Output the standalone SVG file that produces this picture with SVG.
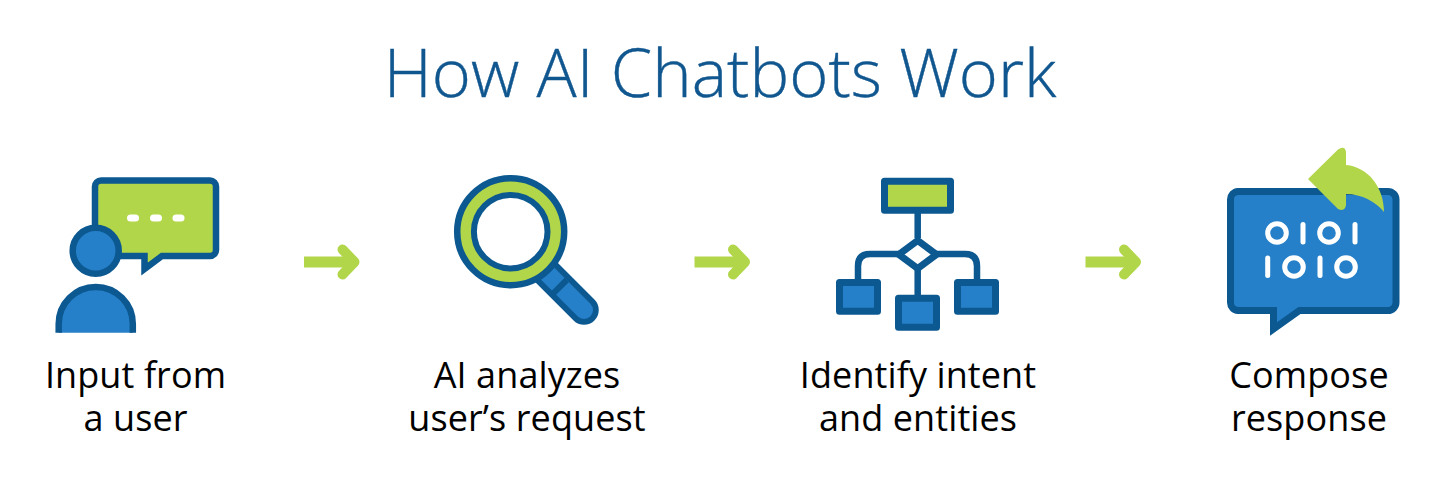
<svg xmlns="http://www.w3.org/2000/svg" width="1440" height="500" viewBox="0 0 1440 500">
<style>
.d{fill:#0c5890}.b{fill:#2680c9}.g{fill:#b2d64a}.w{fill:#fff}
.sd{stroke:#0c5890;stroke-width:6.5;fill:none}
.bx{fill:#2680c9;stroke:#0c5890;stroke-width:7;stroke-linejoin:round}
.bin{fill:none;stroke:#fff;stroke-width:5;stroke-linecap:round}
.t{font-family:"Open Sans",sans-serif;font-size:36px;fill:#000;text-anchor:middle;letter-spacing:.1px}
</style>
<defs>
<g id="arrow"><rect x="0" y="-5.500" width="50" height="11" class="g"/><path d="M38.500 -12.500L50.500 0L38.500 12.500" fill="none" stroke="#b2d64a" stroke-width="10" stroke-linecap="round" stroke-linejoin="round"/></g>
</defs>
<rect width="1440" height="500" fill="#fff"/>
<text id="title" x="720" y="97" text-anchor="middle" font-family="'Open Sans',sans-serif" font-weight="300" font-size="66.800" fill="#10568f" stroke="#10568f" stroke-width=".4">How AI Chatbots Work</text>
<g id="node-input">
<path d="M101 180.500H210A6 6 0 0 1 216 186.500V250A6 6 0 0 1 210 256H162L144.500 269V256H101A6 6 0 0 1 95 250V186.500A6 6 0 0 1 101 180.500Z" class="g" stroke="#0c5890" stroke-width="6.500"/>
<rect x="127" y="214.500" width="12" height="7" rx="3.500" class="w"/>
<rect x="150" y="214.500" width="12" height="7" rx="3.500" class="w"/>
<rect x="172.500" y="214.500" width="12" height="7" rx="3.500" class="w"/>
<circle cx="95.700" cy="250.700" r="23" class="b" stroke="#0c5890" stroke-width="6.500"/>
<path d="M58.700 332.700V324A37 37 0 0 1 132.800 324V332.700Z" class="b"/>
<path d="M58.700 332.700V324A37 37 0 0 1 132.800 324V332.700" class="sd"/>
<text class="t" x="135.500" y="388">Input from</text>
<text class="t" x="135.500" y="431">a user</text>
</g>
<g id="node-analyze">
<path d="M540 266L584 310" stroke="#0c5890" stroke-width="29.500" stroke-linecap="round"/>
<path d="M544 270L584 310" stroke="#2680c9" stroke-width="18" stroke-linecap="round"/>
<path d="M553.300 293.300L566.700 280" stroke="#0c5890" stroke-width="6"/>
<circle cx="510.700" cy="231.700" r="53.500" class="g" stroke="#0c5890" stroke-width="6.500"/>
<circle cx="510.700" cy="231.700" r="36.800" class="w" stroke="#0c5890" stroke-width="6"/>
<text class="t" x="527" y="388">AI analyzes</text>
<text class="t" x="527" y="431">user’s request</text>
</g>
<g id="node-intent">
<path d="M917.700 213V238M858 281V266Q858 254 870 254H965Q977 254 977 266V281M917.700 270V296" class="sd"/>
<path d="M917.700 240.500L936.500 254.500L917.700 268.500L898.800 254.500Z" class="w" stroke="#0c5890" stroke-width="7" stroke-linejoin="round"/>
<rect x="884.500" y="181.200" width="66" height="29" class="g" stroke="#0c5890" stroke-width="7" stroke-linejoin="round"/>
<rect x="839.500" y="282.500" width="38" height="28.700" class="bx"/>
<rect x="898.500" y="298.200" width="38" height="29" class="bx"/>
<rect x="957.500" y="282.500" width="38" height="28.700" class="bx"/>
<text class="t" x="918" y="388">Identify intent</text>
<text class="t" x="918" y="431">and entities</text>
</g>
<g id="node-compose">
<path d="M1238 191.500H1388A8 8 0 0 1 1396 199.500V302.500A8 8 0 0 1 1388 310.500H1299.500L1273.500 329V310.500H1238A8 8 0 0 1 1230.500 302.500V199.500A8 8 0 0 1 1238 191.500Z" class="b" stroke="#0c5890" stroke-width="7"/>
<circle class="bin" cx="1277" cy="233" r="9.300"/><path class="bin" d="M1303 224.500V242"/>
<circle class="bin" cx="1329" cy="233" r="9.300"/><path class="bin" d="M1355 224.500V242"/>
<path class="bin" d="M1267.700 258V275.500"/><circle class="bin" cx="1294" cy="267" r="9.300"/>
<path class="bin" d="M1320 258V275.500"/><circle class="bin" cx="1346" cy="267" r="9.300"/>
<path d="M1308 179L1338 149.500Q1345 145 1346 152V165C1368 167 1384 187 1384 212C1376 202 1362 194 1346 194V205Q1345 212 1338 209Z" class="g"/>
<text class="t" x="1309" y="388">Compose</text>
<text class="t" x="1309" y="431">response</text>
</g>
<g id="connectors">
<use href="#arrow" x="304" y="262"/>
<use href="#arrow" x="694.500" y="262"/>
<use href="#arrow" x="1085.500" y="262"/>
</g>
</svg>
